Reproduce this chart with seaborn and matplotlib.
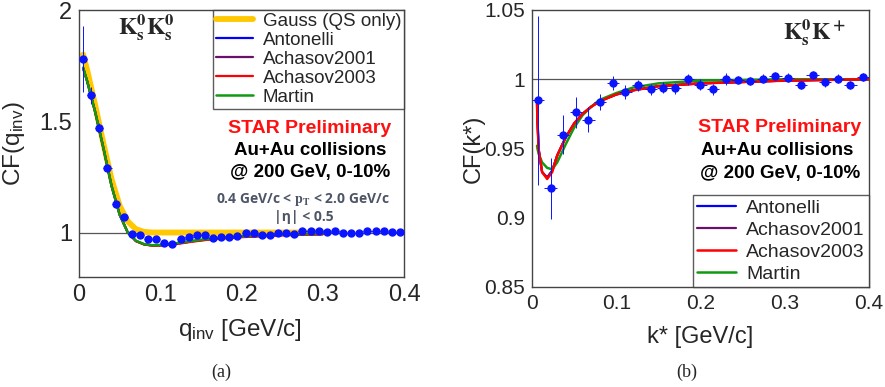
#Importing Libraries and default settings
import matplotlib
matplotlib.use("Agg")
import matplotlib.pyplot as plt
import seaborn as sns
import numpy as np
from matplotlib.ticker import MultipleLocator

sns.set_style("white")
plt.rcParams["font.family"] = ["Liberation Sans", "DejaVu Sans"]
plt.rcParams["mathtext.fontset"] = "custom"
plt.rcParams["mathtext.rm"] = "Liberation Sans"
plt.rcParams["mathtext.it"] = "Liberation Sans:italic"
plt.rcParams["mathtext.bf"] = "Liberation Sans:bold"

#Data: K0s K0s (panel a)
q_pts = [0.005, 0.015, 0.025, 0.035, 0.045, 0.055, 0.065, 0.075, 0.085, 0.095,
         0.105, 0.115, 0.125, 0.135, 0.145, 0.155, 0.165, 0.175, 0.185, 0.195,
         0.205, 0.215, 0.225, 0.235, 0.245, 0.255, 0.265, 0.275, 0.285, 0.295,
         0.305, 0.315, 0.325, 0.335, 0.345, 0.355, 0.365, 0.375, 0.385, 0.395]
cf_q = [1.78, 1.616, 1.47, 1.29, 1.13, 1.07, 0.994, 0.99, 0.97, 0.97,
        0.952, 0.95, 0.97, 0.978, 0.988, 0.99, 0.977, 0.98, 0.978, 0.984,
        0.997, 1.0, 0.99, 0.99, 0.996, 0.996, 0.994, 1.007, 1.006, 1.007,
        1.003, 1.007, 0.998, 0.997, 1.0, 1.006, 1.006, 1.006, 1.003, 1.001]
cf_q_err = [0.15, 0.037, 0.02, 0.012, 0.01, 0.008, 0.007, 0.006, 0.006, 0.005,
            0.005, 0.005, 0.005, 0.005, 0.005, 0.005, 0.005, 0.005, 0.005, 0.005,
            0.005, 0.005, 0.005, 0.005, 0.005, 0.005, 0.005, 0.005, 0.005, 0.005,
            0.005, 0.005, 0.005, 0.005, 0.005, 0.005, 0.005, 0.005, 0.005, 0.005]

q_fit = [0.005, 0.01, 0.02, 0.03, 0.04, 0.05, 0.06, 0.07, 0.08, 0.09, 0.1,
         0.12, 0.14, 0.16, 0.18, 0.2, 0.25, 0.3]
gauss_q = [1.80, 1.73, 1.57, 1.40, 1.24, 1.12, 1.05, 1.015, 1.003, 1.0, 1.0,
           1.0, 1.0, 1.0, 1.0, 1.0, 1.0, 1.0]
antonelli_q = [1.74, 1.68, 1.54, 1.38, 1.21, 1.08, 1.0, 0.962, 0.947, 0.942, 0.943,
               0.950, 0.961, 0.970, 0.976, 0.981, 0.989, 0.993]
achasov01_q = [1.74, 1.68, 1.54, 1.38, 1.21, 1.08, 1.0, 0.962, 0.947, 0.942, 0.943,
               0.950, 0.961, 0.970, 0.976, 0.981, 0.989, 0.993]
achasov03_q = [1.74, 1.68, 1.54, 1.38, 1.21, 1.08, 1.0, 0.961, 0.946, 0.941, 0.941,
               0.948, 0.959, 0.968, 0.974, 0.979, 0.987, 0.992]
martin_q = [1.74, 1.68, 1.54, 1.38, 1.21, 1.08, 1.0, 0.963, 0.948, 0.943, 0.944,
            0.952, 0.963, 0.972, 0.978, 0.983, 0.991, 0.995]

#Data: K0s K+ (panel b)
k_pts = [0.007, 0.022, 0.037, 0.052, 0.067, 0.081, 0.096, 0.111, 0.126, 0.141,
         0.156, 0.170, 0.185, 0.200, 0.215, 0.230, 0.244, 0.259, 0.274, 0.289,
         0.304, 0.319, 0.333, 0.348, 0.363, 0.378, 0.393]
cf_k = [0.985, 0.9214, 0.960, 0.976, 0.9707, 0.9837, 0.9974, 0.991, 0.9957, 0.9928,
        0.9938, 0.9935, 1.0, 0.9962, 0.9928, 1.0002, 0.9995, 0.9988, 1.0005, 1.0024,
        1.0012, 0.996, 1.0029, 0.9977, 1.0005, 0.996, 1.0014]
cf_k_err = [0.061, 0.022, 0.014, 0.011, 0.009, 0.006, 0.005, 0.005, 0.004, 0.004,
            0.004, 0.004, 0.004, 0.004, 0.004, 0.004, 0.003, 0.003, 0.003, 0.003,
            0.003, 0.003, 0.003, 0.003, 0.003, 0.003, 0.003]

k_fit = [0.006, 0.0065, 0.008, 0.012, 0.018, 0.024, 0.03, 0.04, 0.05, 0.06, 0.07,
         0.08, 0.1, 0.12, 0.15, 0.2, 0.3, 0.4]
antonelli_k = [0.982, 0.970, 0.949, 0.933, 0.929, 0.934, 0.945, 0.958, 0.968, 0.975, 0.980,
               0.984, 0.989, 0.992, 0.995, 0.997, 0.999, 1.0]
achasov01_k = [0.982, 0.970, 0.949, 0.933, 0.929, 0.934, 0.945, 0.958, 0.968, 0.975, 0.980,
               0.984, 0.989, 0.992, 0.995, 0.997, 0.999, 1.0]
achasov03_k = [0.982, 0.970, 0.949, 0.933, 0.928, 0.933, 0.945, 0.958, 0.968, 0.975, 0.980,
               0.984, 0.989, 0.992, 0.995, 0.997, 0.999, 1.0]
martin_k = [0.952, 0.950, 0.946, 0.940, 0.936, 0.935, 0.940, 0.953, 0.965, 0.974, 0.980,
            0.985, 0.990, 0.994, 0.997, 0.999, 1.0, 1.0]

col_gauss = "#ffc800"
col_anto = "#0000ff"
col_a01 = "#6a106a"
col_a03 = "#ff0000"
col_mart = "#119911"
col_pts = "#0a14ff"

fig = plt.figure(figsize=(8.85, 3.87), dpi=100)
ax1 = fig.add_axes([0.0893, 0.2842, 0.3672, 0.6899])
ax2 = fig.add_axes([0.6011, 0.2584, 0.3808, 0.7158])

fmt_g = plt.FuncFormatter(lambda v, p: f"{v:g}")


def style_axes(ax, xmin, xmax, ymin, ymax, ymaj, ymin_step, lsize):
    ax.set_xlim(xmin, xmax)
    ax.set_ylim(ymin, ymax)
    ax.xaxis.set_major_locator(MultipleLocator(0.1))
    ax.xaxis.set_minor_locator(MultipleLocator(0.02))
    ax.yaxis.set_major_locator(MultipleLocator(ymaj))
    ax.yaxis.set_minor_locator(MultipleLocator(ymin_step))
    ax.xaxis.set_major_formatter(fmt_g)
    ax.yaxis.set_major_formatter(fmt_g)
    ax.tick_params(which="both", direction="in", top=False, right=False,
                   color="#444444", width=0.8)
    ax.tick_params(which="major", length=8, labelsize=lsize, pad=5)
    ax.tick_params(which="minor", length=4)
    for s in ax.spines.values():
        s.set_color("#444444")
        s.set_linewidth(1.0)
    ax.axhline(1.0, color="#555555", lw=0.9, zorder=1)


#Panel (a)
style_axes(ax1, 0, 0.4, 0.8, 2.0, 0.5, 0.1, 17)
sns.lineplot(x=q_fit, y=gauss_q, ax=ax1, color=col_gauss, lw=4.2, sort=False,
             estimator=None, label="Gauss (QS only)", zorder=2)
sns.lineplot(x=q_fit, y=antonelli_q, ax=ax1, color=col_anto, lw=1.6, sort=False,
             estimator=None, label="Antonelli", zorder=3)
sns.lineplot(x=q_fit, y=achasov01_q, ax=ax1, color=col_a01, lw=1.6, sort=False,
             estimator=None, label="Achasov2001", zorder=3)
sns.lineplot(x=q_fit, y=achasov03_q, ax=ax1, color=col_a03, lw=1.6, sort=False,
             estimator=None, label="Achasov2003", zorder=3)
sns.lineplot(x=q_fit, y=martin_q, ax=ax1, color=col_mart, lw=1.8, sort=False,
             estimator=None, label="Martin", zorder=4)
ax1.errorbar(q_pts, cf_q, yerr=cf_q_err, xerr=0.005, fmt="o", color=col_pts,
             ms=5, elinewidth=0.7, capsize=0, zorder=5)
leg1 = ax1.legend(loc="upper right", bbox_to_anchor=(1.0, 1.0), fontsize=13.5,
                  frameon=True, fancybox=False, borderaxespad=0, labelspacing=0.1,
                  handlelength=2.0, handletextpad=0.5, borderpad=0.15)
leg1.get_frame().set_edgecolor("#333333")
leg1.get_frame().set_linewidth(1.0)
ax1.set_xlabel(r"q$_{\mathregular{inv}}$ [GeV/c]", fontsize=17.5)
ax1.set_ylabel(r"CF(q$_{\mathregular{inv}}$)", fontsize=17.5)
ax1.xaxis.set_label_coords(0.495, -0.15)
ax1.yaxis.set_label_coords(-0.16, 0.5)
ax1.text(0.206, 0.935, r"$\mathbf{K^0_s K^0_s}$", transform=ax1.transAxes,
         ha="center", va="center", fontsize=17, math_fontfamily="stix")
ax1.text(0.711, 0.555, "STAR Preliminary", transform=ax1.transAxes, ha="center",
         va="center", fontsize=14, fontweight="bold", color="#ff1010")
ax1.text(0.711, 0.474, "Au+Au collisions", transform=ax1.transAxes, ha="center",
         va="center", fontsize=13.5, fontweight="bold", color="black")
ax1.text(0.711, 0.393, "@ 200 GeV, 0-10%", transform=ax1.transAxes, ha="center",
         va="center", fontsize=13.5, fontweight="bold", color="black")
ax1.text(0.69, 0.292, r"0.4 GeV/c < $\mathbf{p_T}$ < 2.0 GeV/c", transform=ax1.transAxes,
         ha="center", va="center", fontsize=10, fontweight="bold", color="#4d5566",
         family="Open Sans", math_fontfamily="stix")
ax1.text(0.693, 0.225, "|η| < 0.5", transform=ax1.transAxes, ha="center",
         va="center", fontsize=10, fontweight="bold", color="#4d5566", family="Open Sans")

#Panel (b)
style_axes(ax2, 0, 0.4, 0.85, 1.05, 0.05, 0.01, 15)
sns.lineplot(x=k_fit, y=antonelli_k, ax=ax2, color=col_anto, lw=1.6, sort=False,
             estimator=None, label="Antonelli", zorder=3)
sns.lineplot(x=k_fit, y=achasov01_k, ax=ax2, color=col_a01, lw=1.6, sort=False,
             estimator=None, label="Achasov2001", zorder=3)
sns.lineplot(x=k_fit, y=martin_k, ax=ax2, color=col_mart, lw=1.8, sort=False,
             estimator=None, label="Martin", zorder=3)
sns.lineplot(x=k_fit, y=achasov03_k, ax=ax2, color=col_a03, lw=1.8, sort=False,
             estimator=None, label="Achasov2003", zorder=4)
ax2.errorbar(k_pts, cf_k, yerr=cf_k_err, xerr=0.0074, fmt="o", color=col_pts,
             ms=5, elinewidth=0.7, capsize=0, zorder=5)
h, l = ax2.get_legend_handles_labels()
order = [l.index(n) for n in ["Antonelli", "Achasov2001", "Achasov2003", "Martin"]]
leg2 = ax2.legend([h[i] for i in order], [l[i] for i in order], loc="lower right",
                  bbox_to_anchor=(1.0, 0.0), fontsize=14, frameon=True, fancybox=False,
                  borderaxespad=0, labelspacing=0.22, handlelength=2.0,
                  handletextpad=0.5, borderpad=0.22)
leg2.get_frame().set_edgecolor("#333333")
leg2.get_frame().set_linewidth(1.0)
ax2.set_xlabel("k* [GeV/c]", fontsize=17)
ax2.set_ylabel("CF(k*)", fontsize=17)
ax2.xaxis.set_label_coords(0.50, -0.14)
ax2.yaxis.set_label_coords(-0.14, 0.5)
ax2.text(0.839, 0.917, r"$\mathbf{K^0_s K^+}$", transform=ax2.transAxes,
         ha="center", va="center", fontsize=17, math_fontfamily="stix")
ax2.text(0.736, 0.574, "STAR Preliminary", transform=ax2.transAxes, ha="center",
         va="center", fontsize=14, fontweight="bold", color="#ff1010")
ax2.text(0.727, 0.491, "Au+Au collisions", transform=ax2.transAxes, ha="center",
         va="center", fontsize=13.5, fontweight="bold", color="black")
ax2.text(0.736, 0.408, "@ 200 GeV, 0-10%", transform=ax2.transAxes, ha="center",
         va="center", fontsize=13.5, fontweight="bold", color="black")

#Sub-captions
fig.text(221 / 885, 1 - 372 / 387, "(a)", ha="center", va="center", fontsize=13,
         family="Liberation Serif")
fig.text(687 / 885, 1 - 372 / 387, "(b)", ha="center", va="center", fontsize=13,
         family="Liberation Serif")

fig.savefig("out.png", dpi=100)
plt.close(fig)
